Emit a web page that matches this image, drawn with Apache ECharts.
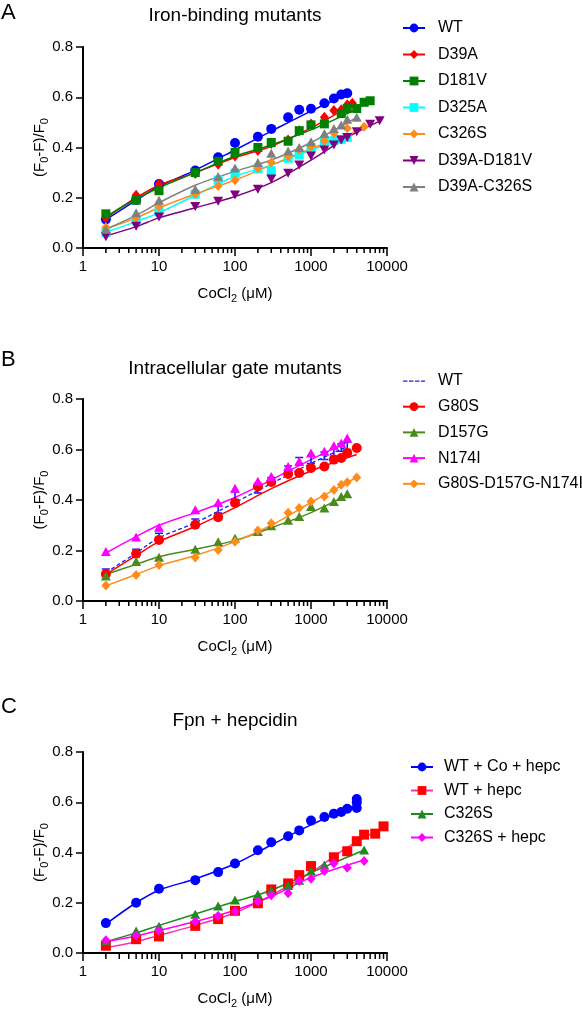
<!DOCTYPE html>
<html><head><meta charset="utf-8">
<script src="https://cdn.jsdelivr.net/npm/echarts@6/dist/echarts.min.js"></script>
<style>html,body{margin:0;padding:0;background:#fff}#c{width:582px;height:1010px}</style>
</head><body><div id="c"></div>
<script>
// ---------- tick labels ----------
const X_TICKS = [1, 10, 100, 1000, 10000];
const X_MINOR = [2,3,4,5,6,7,8,9,20,30,40,50,60,70,80,90,200,300,400,500,600,700,800,900,2000,3000,4000,5000,6000,7000,8000,9000];
const Y_TICKS = [0, 0.2, 0.4, 0.6, 0.8];

// ---------- Panel A: Iron-binding mutants ----------
const A_WT_x = [2,5,10,30,60,100,200,300,500,700,1000,1500,2000,2500,3000];
const A_WT_y = [0.114,0.191,0.255,0.308,0.361,0.418,0.443,0.474,0.52,0.55,0.554,0.576,0.595,0.611,0.616];
const A_WT_fx = [2,5,10,30,100,300,1000,3000];
const A_WT_fy = [0.113,0.19,0.245,0.31,0.39,0.465,0.545,0.612];

const A_D39A_x = [2,5,10,30,60,100,200,300,500,700,1000,1500,2000,2500,3000,3500];
const A_D39A_y = [0.12,0.21,0.255,0.297,0.333,0.366,0.388,0.416,0.43,0.467,0.494,0.52,0.547,0.55,0.57,0.576];
const A_D39A_fx = [2,5,10,30,100,300,1000,3500];
const A_D39A_fy = [0.12,0.2,0.25,0.3,0.36,0.405,0.478,0.572];

const A_D181V_x = [2,5,10,30,60,100,200,300,500,700,1000,1500,2500,3000,4000,5000,6000];
const A_D181V_y = [0.136,0.19,0.228,0.30,0.345,0.38,0.40,0.42,0.425,0.467,0.49,0.494,0.535,0.555,0.555,0.58,0.586];
const A_D181V_fx = [2,5,10,30,100,300,1000,3000,6000];
const A_D181V_fy = [0.125,0.195,0.24,0.30,0.365,0.41,0.47,0.535,0.585];

const A_D325A_x = [2,5,10,30,60,100,200,300,500,700,1000,1500,2000,2500,3000];
const A_D325A_y = [0.062,0.11,0.145,0.214,0.27,0.298,0.315,0.308,0.357,0.37,0.40,0.427,0.427,0.432,0.44];
const A_D325A_fx = [2,5,10,30,100,300,1000,3000];
const A_D325A_fy = [0.063,0.105,0.14,0.21,0.285,0.33,0.39,0.44];

const A_C326S_x = [2,5,10,30,60,100,200,300,500,700,1000,1500,2000,3000,5000];
const A_C326S_y = [0.083,0.12,0.165,0.215,0.247,0.27,0.317,0.34,0.364,0.39,0.404,0.426,0.457,0.477,0.483];
const A_C326S_fx = [2,5,10,30,100,300,1000,3000,5000];
const A_C326S_fy = [0.075,0.12,0.16,0.215,0.27,0.33,0.395,0.45,0.48];

const A_DD_x = [2,5,10,30,60,100,200,300,500,700,1000,1500,2000,2500,3000,4000,6000,8000];
const A_DD_y = [0.045,0.087,0.123,0.165,0.186,0.211,0.234,0.275,0.298,0.33,0.366,0.39,0.41,0.43,0.44,0.463,0.493,0.506];
const A_DD_fx = [2,5,10,30,100,300,1000,3000,8000];
const A_DD_fy = [0.048,0.085,0.12,0.16,0.205,0.26,0.35,0.44,0.505];

const A_DC_x = [2,5,10,30,60,100,200,300,500,700,1000,1500,2000,2500,3000,4000];
const A_DC_y = [0.075,0.14,0.19,0.234,0.285,0.318,0.34,0.377,0.386,0.40,0.423,0.456,0.476,0.49,0.512,0.52];
const A_DC_fx = [2,5,10,30,100,300,1000,4000];
const A_DC_fy = [0.075,0.13,0.18,0.25,0.305,0.35,0.42,0.52];

// ---------- Panel B: Intracellular gate mutants ----------
const B_WT_x = [2,5,10,30,60,100,200,300,500,700,1000,1500,2000,2500,3000];
const B_WT_y = [0.112,0.19,0.253,0.31,0.364,0.417,0.443,0.474,0.52,0.553,0.56,0.575,0.588,0.608,0.615];
const B_WT_fx = [2,5,10,30,100,300,1000,3000];
const B_WT_fy = [0.112,0.19,0.25,0.31,0.39,0.465,0.545,0.612];

const B_G80S_x = [2,5,10,30,60,100,200,300,500,700,1000,1500,2000,2500,3000,4000];
const B_G80S_y = [0.107,0.187,0.242,0.302,0.332,0.388,0.454,0.471,0.503,0.507,0.527,0.533,0.56,0.566,0.586,0.606];
const B_G80S_fx = [2,5,10,30,100,300,1000,4000];
const B_G80S_fy = [0.105,0.18,0.235,0.295,0.37,0.445,0.515,0.58];

const B_D157G_x = [2,5,10,30,60,100,200,300,500,700,1000,1500,2000,2500,3000];
const B_D157G_y = [0.099,0.156,0.173,0.205,0.235,0.249,0.275,0.298,0.32,0.335,0.374,0.368,0.394,0.414,0.425];
const B_D157G_fx = [2,5,10,30,100,300,1000,3000];
const B_D157G_fy = [0.105,0.145,0.175,0.205,0.24,0.29,0.35,0.42];

const B_N174I_x = [2,5,10,30,60,100,200,300,500,700,1000,1500,2000,2500,3000];
const B_N174I_y = [0.196,0.253,0.292,0.361,0.39,0.447,0.474,0.493,0.533,0.553,0.586,0.593,0.615,0.626,0.646];
const B_N174I_fx = [2,5,10,30,100,300,1000,3000];
const B_N174I_fy = [0.19,0.255,0.30,0.35,0.41,0.48,0.56,0.63];

const B_TRI_x = [2,5,10,30,60,100,200,300,500,700,1000,1500,2000,2500,3000,4000];
const B_TRI_y = [0.061,0.103,0.143,0.172,0.202,0.235,0.279,0.308,0.35,0.368,0.394,0.414,0.44,0.46,0.47,0.489];
const B_TRI_fx = [2,5,10,30,100,300,1000,4000];
const B_TRI_fy = [0.06,0.105,0.14,0.18,0.235,0.3,0.39,0.49];

// ---------- Panel C: Fpn + hepcidin ----------
const C_WTCO_x = [2,5,10,30,60,100,200,300,500,700,1000,1500,2000,2500,3000,4000,4000,4000];
const C_WTCO_y = [0.119,0.2,0.256,0.29,0.322,0.356,0.409,0.441,0.465,0.488,0.527,0.541,0.554,0.561,0.574,0.577,0.599,0.613];
const C_WTCO_fx = [2,5,10,30,100,300,1000,4000];
const C_WTCO_fy = [0.115,0.2,0.25,0.295,0.355,0.43,0.51,0.59];

const C_WTH_x = [2,5,10,30,60,100,200,300,500,700,1000,2000,3000,4000,5000,7000,9000];
const C_WTH_y = [0.029,0.055,0.066,0.108,0.135,0.168,0.198,0.253,0.277,0.31,0.346,0.381,0.405,0.445,0.471,0.475,0.504];
const C_WTH_fx = [2,5,10,30,100,300,1000,3000,9000];
const C_WTH_fy = [0.022,0.045,0.07,0.11,0.16,0.23,0.32,0.42,0.5];

const C_C326S_x = [2,5,10,30,60,100,200,300,500,700,1000,1500,5000];
const C_C326S_y = [0.049,0.088,0.106,0.154,0.187,0.211,0.234,0.25,0.269,0.29,0.326,0.35,0.41];
const C_C326S_fx = [2,5,10,30,100,300,1000,5000];
const C_C326S_fy = [0.045,0.08,0.11,0.155,0.205,0.25,0.32,0.41];

const C_C326SH_x = [2,5,10,30,60,100,200,300,500,700,1000,1500,2000,3000,5000];
const C_C326SH_y = [0.051,0.07,0.09,0.125,0.148,0.165,0.205,0.23,0.238,0.287,0.296,0.326,0.356,0.339,0.366];
const C_C326SH_fx = [2,5,10,30,100,300,1000,5000];
const C_C326SH_fy = [0.045,0.068,0.09,0.125,0.17,0.225,0.30,0.37];

// ---------- styling ----------
const FONT = 'Liberation Sans, Arial, sans-serif';
const IBAR = 'path://M0,0H8V1.6H4.8V8.4H8V10H0V8.4H3.2V1.6H0Z';
const DASH_ICON = 'path://M0,0L0.01,0L0,0.01Z M0,11L0.01,11L0,10.99Z M0,5H4.5V6.3H0Z M6,5H10.5V6.3H6Z M12,5H16.5V6.3H12Z M18,5H22V6.3H18Z';

const panels = [
  { top: 47, height: 201, title: 'Iron-binding mutants', letter: 'A', titleTop: 6, letterTop: 2, legendTop: 20, legendGap: 10.5, legendLeft: 402, textPad: 8,
    items: [
      {name:'WT', color:'#0000ff', symbol:'circle', size:10, x:A_WT_x, y:A_WT_y, fx:A_WT_fx, fy:A_WT_fy},
      {name:'D39A', color:'#ff0000', symbol:'diamond', size:[9,11], x:A_D39A_x, y:A_D39A_y, fx:A_D39A_fx, fy:A_D39A_fy},
      {name:'D181V', color:'#008000', symbol:'rect', size:9, x:A_D181V_x, y:A_D181V_y, fx:A_D181V_fx, fy:A_D181V_fy},
      {name:'D325A', color:'#00ffff', symbol:'rect', size:9, x:A_D325A_x, y:A_D325A_y, fx:A_D325A_fx, fy:A_D325A_fy},
      {name:'C326S', color:'#ff8c1a', symbol:'diamond', size:[9,10], x:A_C326S_x, y:A_C326S_y, fx:A_C326S_fx, fy:A_C326S_fy},
      {name:'D39A-D181V', color:'#800080', symbol:'triangle', rotate:180, size:[10,9], x:A_DD_x, y:A_DD_y, fx:A_DD_fx, fy:A_DD_fy},
      {name:'D39A-C326S', color:'#808080', symbol:'triangle', size:[10,9], x:A_DC_x, y:A_DC_y, fx:A_DC_fx, fy:A_DC_fy}
    ]},
  { top: 399, height: 202, title: 'Intracellular gate mutants', letter: 'B', titleTop: 359, letterTop: 349, legendTop: 373, legendGap: 9.7, legendLeft: 402, textPad: 8,
    items: [
      {name:'WT', color:'#1a1aff', symbol:IBAR, size:[8,9], dashed:true, icon:DASH_ICON, x:B_WT_x, y:B_WT_y, fx:B_WT_fx, fy:B_WT_fy},
      {name:'G80S', color:'#ff0000', symbol:'circle', size:10, x:B_G80S_x, y:B_G80S_y, fx:B_G80S_fx, fy:B_G80S_fy},
      {name:'D157G', color:'#4a8c1c', symbol:'triangle', size:[10,9], x:B_D157G_x, y:B_D157G_y, fx:B_D157G_fx, fy:B_D157G_fy},
      {name:'N174I', color:'#ff00ff', symbol:'triangle', size:[10,9], x:B_N174I_x, y:B_N174I_y, fx:B_N174I_fx, fy:B_N174I_fy},
      {name:'G80S-D157G-N174I', color:'#ff8c1a', symbol:'diamond', size:[9,10], x:B_TRI_x, y:B_TRI_y, fx:B_TRI_fx, fy:B_TRI_fy}
    ]},
  { top: 752, height: 202, title: 'Fpn + hepcidin', letter: 'C', titleTop: 711.5, letterTop: 696, legendTop: 759, legendGap: 7.5, legendLeft: 410, textPad: 6,
    items: [
      {name:'WT + Co + hepc', color:'#0000ff', symbol:'circle', size:10, x:C_WTCO_x, y:C_WTCO_y, fx:C_WTCO_fx, fy:C_WTCO_fy},
      {name:'WT + hepc', color:'#ff0000', lineColor:'#ff2fb4', symbol:'rect', size:10, x:C_WTH_x, y:C_WTH_y, fx:C_WTH_fx, fy:C_WTH_fy},
      {name:'C326S', color:'#1f8a1f', symbol:'triangle', size:[10,9], x:C_C326S_x, y:C_C326S_y, fx:C_C326S_fx, fy:C_C326S_fy},
      {name:'C326S + hepc', color:'#ff00ff', symbol:'diamond', size:[9,10], x:C_C326SH_x, y:C_C326SH_y, fx:C_C326SH_fx, fy:C_C326SH_fy}
    ]}
];

function zip(xs, ys) { return xs.map((x, i) => [x, ys[i]]); }

const rich = {
  n: { fontSize: 15, fontFamily: FONT, color: '#000', lineHeight: 20, verticalAlign: 'middle' },
  s: { fontSize: 11, fontFamily: FONT, color: '#000', lineHeight: 11, verticalAlign: 'bottom' }
};

const grid = [], xAxis = [], yAxis = [], series = [], legend = [], title = [];
panels.forEach((p, gi) => {
  grid.push({ left: 83, width: 304, top: p.top, height: p.height });
  xAxis.push({
    type: 'log', logBase: 10, gridIndex: gi, min: 1, max: 10000,
    name: '{n|CoCl}{s|2}{n| (μM)}', nameLocation: 'middle', nameGap: 36, nameMoveOverlap: false,
    nameTextStyle: { rich: rich },
    axisLine: { lineStyle: { color: '#000', width: 2 } },
    axisTick: { show: true, length: 8, lineStyle: { color: '#000', width: 1.5 } },
    axisLabel: { color: '#000', fontSize: 15, fontFamily: FONT, margin: 11, formatter: v => String(v) },
    splitLine: { show: false }, minorTick: { show: false }
  });
  yAxis.push({
    type: 'value', gridIndex: gi, min: 0, max: 0.8, interval: 0.2,
    name: '{n|(F}{s|0}{n|-F)/F}{s|0}', nameLocation: 'middle', nameGap: 33, nameRotate: 90, nameMoveOverlap: false,
    nameTextStyle: { rich: rich },
    axisLine: { show: true, lineStyle: { color: '#000', width: 2 } },
    axisTick: { show: true, length: 7, lineStyle: { color: '#000', width: 1.5 } },
    axisLabel: { color: '#000', fontSize: 15, fontFamily: FONT, margin: 10, formatter: v => v.toFixed(1) },
    splitLine: { show: false }
  });
  const legendData = [];
  p.items.forEach(it => {
    const nm = it.name + '#' + gi;
    series.push({
      name: nm, type: 'line', xAxisIndex: gi, yAxisIndex: gi,
      data: zip(it.fx, it.fy), smooth: 0.35, showSymbol: false,
      symbol: it.symbol, symbolRotate: it.rotate || 0,
      color: it.color,
      lineStyle: { color: it.lineColor || it.color, width: it.dashed ? 1.3 : 1.5, type: it.dashed ? [4, 2.5] : 'solid' },
      silent: true, z: 2
    });
    series.push({
      name: nm, type: 'scatter', xAxisIndex: gi, yAxisIndex: gi,
      data: zip(it.x, it.y), symbol: it.symbol, symbolSize: it.size, symbolRotate: it.rotate || 0,
      itemStyle: { color: it.color, opacity: 1 }, z: 3, silent: true
    });
    legendData.push(it.icon ? { name: nm, icon: it.icon } : { name: nm });
  });
  legend.push({
    orient: 'vertical', left: p.legendLeft, top: p.legendTop, itemGap: p.legendGap, padding: 0,
    itemWidth: 22, itemHeight: 11, data: legendData, selectedMode: false,
    formatter: n => n.replace(/#\d+$/, ''),
    textStyle: { color: '#000', fontSize: 16, fontFamily: FONT, padding: [0, 0, 0, p.textPad] }
  });
  title.push({ text: p.title, left: 235, textAlign: 'center', top: p.titleTop,
    textStyle: { fontSize: 19, fontWeight: 'normal', color: '#000', fontFamily: FONT }, padding: 0 });
  title.push({ text: p.letter, left: 1, top: p.letterTop,
    textStyle: { fontSize: 22, fontWeight: 'normal', color: '#000', fontFamily: FONT }, padding: 0 });
});

const chart = echarts.init(document.getElementById('c'), null, { renderer: 'canvas' });
chart.setOption({
  animation: false, backgroundColor: '#fff',
  title, grid, xAxis, yAxis, legend, series
});

// minor log ticks placed through the axis scale of each panel
const tickEls = [];
panels.forEach((p, gi) => {
  const y0 = p.top + p.height;
  X_MINOR.forEach(v => {
    const x = chart.convertToPixel({ xAxisIndex: gi }, v);
    if (typeof x === 'number' && isFinite(x)) {
      tickEls.push({ type: 'line', silent: true, z: 100,
        shape: { x1: x, y1: y0, x2: x, y2: y0 + 5 },
        style: { stroke: '#000', lineWidth: 1.5 } });
    }
  });
});
chart.setOption({ graphic: { elements: tickEls } });
</script></body></html>
